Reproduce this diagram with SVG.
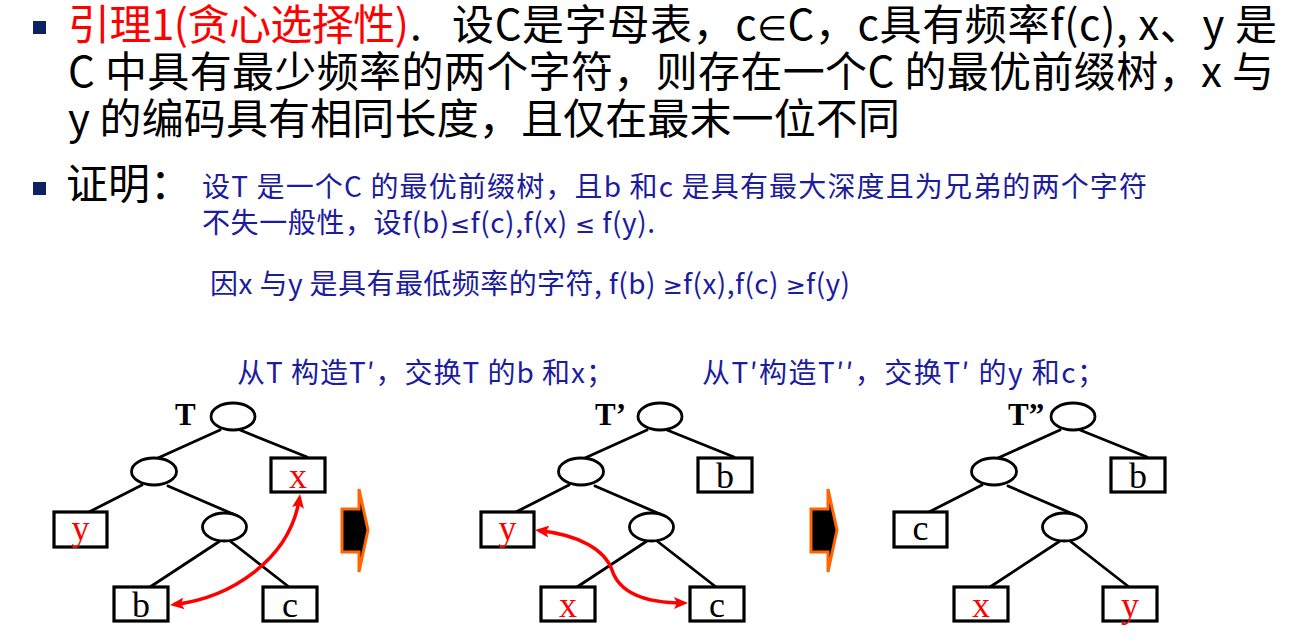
<svg xmlns="http://www.w3.org/2000/svg" width="1304" height="643" viewBox="0 0 1304 643">
<defs>
<style>
.main{font-family:"Noto Sans CJK SC","Noto Sans",sans-serif;font-size:42px;fill:#000}
.red{fill:#ff0000}
.blue{font-family:"Noto Sans CJK SC","Noto Sans",sans-serif;font-size:28px;fill:#1c1c9e}
.sym{font-family:"DejaVu Sans","Noto Sans",sans-serif}
.bullet{fill:#0d2260}
.edge{stroke:#000;stroke-width:2.8;fill:none;stroke-linecap:round}
.inode{fill:#fff;stroke:#000;stroke-width:2.8}
.leaf{fill:#fff;stroke:#000;stroke-width:3.2}
.lbl{font-family:"Liberation Serif","Times New Roman",serif;font-size:36px;text-anchor:middle;fill:#000}
.lbl.r{fill:#ff0000}
.tname{font-family:"Liberation Serif","Times New Roman",serif;font-size:31px;font-weight:bold;fill:#000}
.swap{stroke:#ff0000;stroke-width:3.5;fill:none;marker-start:url(#ah);marker-end:url(#ah)}
.step{fill:#000;stroke:#ff6600;stroke-width:3;stroke-linejoin:miter}
</style>
<marker id="ah" viewBox="0 0 14 12" refX="10" refY="6" markerWidth="14" markerHeight="12" markerUnits="userSpaceOnUse" orient="auto-start-reverse">
<path d="M0,0 L14,6 L0,12 L3,6 z" fill="#ff0000"/>
</marker>
</defs>
<rect width="1304" height="643" fill="#fff"/>

<g id="text">
<rect class="bullet" x="33" y="21" width="13" height="13"/>
<text class="main red" x="68" y="40" textLength="341" lengthAdjust="spacing">引理1(贪心选择性)</text>
<text class="main" x="410" y="40">. </text>
<text class="main" x="452" y="40" textLength="825" lengthAdjust="spacing">设C是字母表，c<tspan class="sym" font-size="34">∈</tspan>C，c具有频率f(c), x、y 是</text>
<text class="main" x="68" y="87" textLength="1206" lengthAdjust="spacing">C 中具有最少频率的两个字符，则存在一个C 的最优前缀树，x 与</text>
<text class="main" x="68" y="134" textLength="832" lengthAdjust="spacing">y 的编码具有相同长度，且仅在最末一位不同</text>
<rect class="bullet" x="33" y="182" width="13" height="13"/>
<text class="main" x="66" y="199">证明：</text>
<text class="blue" x="202" y="197" textLength="945" lengthAdjust="spacing">设T 是一个C 的最优前缀树，且b 和c 是具有最大深度且为兄弟的两个字符</text>
<text class="blue" x="202" y="233" textLength="453" lengthAdjust="spacing">不失一般性，设f(b)<tspan class="sym" font-size="24">≤</tspan>f(c),f(x) <tspan class="sym" font-size="24">≤</tspan> f(y).</text>
<text class="blue" x="210" y="294" textLength="640" lengthAdjust="spacing">因x 与y 是具有最低频率的字符, f(b) <tspan class="sym" font-size="24">≥</tspan>f(x),f(c) <tspan class="sym" font-size="24">≥</tspan>f(y)</text>
<text class="blue" x="237" y="383" textLength="377" lengthAdjust="spacing">从T 构造T′，交换T 的b 和x；</text>
<text class="blue" x="702" y="383" textLength="403" lengthAdjust="spacing">从T′构造T′′，交换T′ 的y 和c；</text>
</g>

<g id="connectors">
<path class="edge" d="M220,430 L158,458 M240,430 L307,457 M142,485 L89,512 M168,486 L233,514 M220,541 L150,587 M230,541 L289,587"/>
<path class="edge" d="M647,430 L585,458 M667,430 L734,457 M569,485 L516,512 M595,486 L660,514 M647,541 L577,587 M657,541 L716,587"/>
<path class="edge" d="M1060,430 L998,458 M1080,430 L1147,457 M982,485 L929,512 M1008,486 L1073,514 M1060,541 L990,587 M1070,541 L1129,587"/>
</g>

<g id="tree1">
<text class="tname" x="175" y="425">T</text>
<g id="t1-root"><ellipse class="inode" cx="233" cy="416.5" rx="22" ry="13.5"/></g>
<g id="t1-n1"><ellipse class="inode" cx="154" cy="471.5" rx="22.5" ry="13.5"/></g>
<g id="t1-n2"><ellipse class="inode" cx="224.5" cy="527" rx="22" ry="14"/></g>
<g id="t1-x"><rect class="leaf" x="271" y="458" width="54" height="34"/><text class="lbl r" x="298" y="488">x</text></g>
<g id="t1-y"><rect class="leaf" x="54" y="512" width="53" height="35"/><text class="lbl r" x="80.5" y="540">y</text></g>
<g id="t1-b"><rect class="leaf" x="114" y="587" width="54" height="34"/><text class="lbl" x="141" y="617">b</text></g>
<g id="t1-c"><rect class="leaf" x="263" y="587" width="54" height="34"/><text class="lbl" x="290" y="617">c</text></g>
</g>

<g id="tree2">
<text class="tname" x="595" y="425">T’</text>
<g id="t2-root"><ellipse class="inode" cx="660" cy="416.5" rx="22" ry="13.5"/></g>
<g id="t2-n1"><ellipse class="inode" cx="581" cy="471.5" rx="22.5" ry="13.5"/></g>
<g id="t2-n2"><ellipse class="inode" cx="651.5" cy="527" rx="22" ry="14"/></g>
<g id="t2-b"><rect class="leaf" x="698" y="458" width="54" height="34"/><text class="lbl" x="725" y="488">b</text></g>
<g id="t2-y"><rect class="leaf" x="481" y="512" width="53" height="35"/><text class="lbl r" x="507.5" y="540">y</text></g>
<g id="t2-x"><rect class="leaf" x="541" y="587" width="54" height="34"/><text class="lbl r" x="568" y="617">x</text></g>
<g id="t2-c"><rect class="leaf" x="690" y="587" width="54" height="34"/><text class="lbl" x="717" y="617">c</text></g>
</g>

<g id="tree3">
<text class="tname" x="1008" y="425">T”</text>
<g id="t3-root"><ellipse class="inode" cx="1073" cy="416.5" rx="22" ry="13.5"/></g>
<g id="t3-n1"><ellipse class="inode" cx="994" cy="471.5" rx="22.5" ry="13.5"/></g>
<g id="t3-n2"><ellipse class="inode" cx="1064.5" cy="527" rx="22" ry="14"/></g>
<g id="t3-b"><rect class="leaf" x="1111" y="458" width="54" height="34"/><text class="lbl" x="1138" y="488">b</text></g>
<g id="t3-c"><rect class="leaf" x="894" y="512" width="53" height="35"/><text class="lbl" x="920.5" y="540">c</text></g>
<g id="t3-x"><rect class="leaf" x="954" y="587" width="54" height="34"/><text class="lbl r" x="981" y="617">x</text></g>
<g id="t3-y"><rect class="leaf" x="1103" y="587" width="54" height="34"/><text class="lbl r" x="1130" y="617">y</text></g>
</g>

<g id="swaps">
<path class="swap" d="M174,604.5 C230,598 290,560 299.5,498"/>
<path class="swap" d="M539,530.5 C580,535 605,550 612,570 C620,595 650,603 684,603"/>
</g>

<g id="steps">
<path class="step" d="M342,509 H359 V489 L368,530 L359,572 V552 H342 Z"/>
<path class="step" d="M811,509 H828 V489 L837,530 L828,572 V552 H811 Z"/>
</g>
</svg>
